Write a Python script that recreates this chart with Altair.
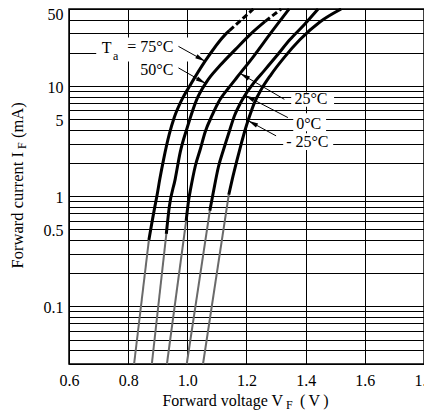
import math
import altair as alt
import pandas as pd

FONT = "Liberation Serif"

# ---------------- data (V in volts, I in mA) ----------------
# Ta = 75 C
t75_low_v = [0.820, 0.870]
t75_low_i = [0.03, 0.40]
t75_v = [0.870, 0.890, 0.897, 0.907, 0.920, 0.939, 0.956, 0.982, 1.008, 1.060, 1.128, 1.142]
t75_i = [0.40, 0.80, 1.0, 1.43, 2.17, 3.65, 5.2, 7.57, 10.0, 16.8, 29.3, 31.8]
t75_dash_v = [1.142, 1.223]
t75_dash_i = [31.8, 50.0]
# Ta = 50 C
t50_low_v = [0.880, 0.929]
t50_low_i = [0.03, 0.456]
t50_v = [0.929, 0.939, 0.959, 0.976, 1.000, 1.032, 1.064, 1.111, 1.162, 1.212, 1.263]
t50_i = [0.456, 0.80, 1.43, 2.51, 4.23, 7.57, 10.8, 15.4, 21.4, 29.3, 38.6]
t50_dash_v = [1.263, 1.317]
t50_dash_i = [38.6, 50.0]
# Ta = 25 C
t25_low_v = [0.931, 0.996]
t25_low_i = [0.03, 0.598]
t25_v = [0.996, 1.005, 1.011, 1.027, 1.044, 1.060, 1.084, 1.111, 1.141, 1.168, 1.226, 1.283, 1.344]
t25_i = [0.598, 0.945, 1.16, 1.88, 2.68, 3.81, 5.43, 7.57, 9.71, 12.0, 18.9, 30.5, 50.0]
# Ta = 0 C
t0_low_v = [0.998, 1.076]
t0_low_i = [0.03, 0.737]
t0_v = [1.076, 1.088, 1.105, 1.123, 1.141, 1.160, 1.179, 1.199, 1.226, 1.260, 1.300, 1.347, 1.395, 1.442]
t0_i = [0.737, 1.09, 1.84, 2.68, 3.81, 5.43, 6.96, 8.58, 10.8, 13.8, 18.5, 26.4, 36.0, 50.0]
# Ta = -25 C
tm25_low_v = [1.053, 1.140]
tm25_low_i = [0.03, 1.03]
tm25_v = [1.140, 1.152, 1.167, 1.182, 1.195, 1.209, 1.226, 1.250, 1.283, 1.327, 1.381, 1.449, 1.520]
tm25_i = [1.03, 1.43, 2.08, 2.97, 3.97, 5.20, 6.96, 9.32, 12.7, 18.1, 26.4, 38.3, 50.0]

# axis ticks / grid
x_ticks = [0.6, 0.8, 1.0, 1.2, 1.4, 1.6, 1.8]
y_grid = [0.03, 0.04, 0.05, 0.06, 0.07, 0.08, 0.09,
          0.1, 0.2, 0.3, 0.4, 0.5, 0.6, 0.7, 0.8, 0.9,
          1, 2, 3, 4, 5, 6, 7, 8, 9,
          10, 20, 30, 40, 50]
y_labels = [50, 10, 5, 1, 0.5, 0.1]

# annotations (data units)
left_lab_text = ["= 75°C", "50°C"]
left_lab_v = [0.953, 0.953]
left_lab_i = [20.2, 12.7]
right_lab_text = ["25°C", "0°C", "- 25°C"]
right_lab_v = [1.362, 1.368, 1.334]
right_lab_i = [6.82, 4.05, 2.77]

arrow_tail_v = [0.970, 0.970, 1.328, 1.340, 1.300]
arrow_tail_i = [22.9, 14.6, 7.57, 5.17, 3.53]
arrow_tip_v = [1.060, 1.062, 1.179, 1.195, 1.206]
arrow_tip_i = [16.8, 10.56, 13.0, 8.23, 4.84]

box_v1 = [0.692, 1.351, 1.358, 1.324]
box_v2 = [1.044, 1.496, 1.469, 1.493]
box_i1 = [16.7, 6.47, 3.89, 2.62]
box_i2 = [27.5, 8.75, 5.66, 3.73]

# ---------------- build tables ----------------
W, H = 355, 355


def rows(name, seg, vs, cs):
    return [{"curve": name, "seg": seg, "k": k, "V": v, "I": c} for k, (v, c) in enumerate(zip(vs, cs))]


recs = []
for name, lv, li, sv, si in [
    ("75", t75_low_v, t75_low_i, t75_v, t75_i),
    ("50", t50_low_v, t50_low_i, t50_v, t50_i),
    ("25", t25_low_v, t25_low_i, t25_v, t25_i),
    ("0", t0_low_v, t0_low_i, t0_v, t0_i),
    ("-25", tm25_low_v, tm25_low_i, tm25_v, tm25_i),
]:
    recs += rows(name, "low", lv, li)
    recs += rows(name, "solid", sv, si)
recs += rows("75", "dash", t75_dash_v, t75_dash_i)
recs += rows("50", "dash", t50_dash_v, t50_dash_i)
curves = pd.DataFrame(recs)


def px(v):
    return (v - 0.6) / 1.2 * W


def py(c):
    return H * (math.log10(50) - math.log10(c)) / (math.log10(50) - math.log10(0.03))


angles = []
for tv, ti, hv, hi in zip(arrow_tail_v, arrow_tail_i, arrow_tip_v, arrow_tip_i):
    dx = px(hv) - px(tv)
    dy = py(hi) - py(ti)
    angles.append(math.degrees(math.atan2(dx, -dy)) % 360)

arrows = pd.DataFrame({"v1": arrow_tail_v, "i1": arrow_tail_i, "v2": arrow_tip_v,
                       "i2": arrow_tip_i, "ang": angles})
boxes = pd.DataFrame({"v1": box_v1, "v2": box_v2, "i1": box_i1, "i2": box_i2})
left_labs = pd.DataFrame({"t": left_lab_text, "V": left_lab_v, "I": left_lab_i})
right_labs = pd.DataFrame({"t": right_lab_text, "V": right_lab_v, "I": right_lab_i})

xs = alt.Scale(domain=[0.6, 1.8], nice=False, zero=False)
ys = alt.Scale(type="log", domain=[0.03, 50], nice=False)

label_expr = "indexof([" + ",".join(str(v) for v in y_labels) + "], datum.value) >= 0 ? datum.label : ''"
xaxis = alt.Axis(values=x_ticks, format=".1f", title=None, labelFlush=False, labelOverlap=False,
                 labelPadding=8, grid=True, ticks=False, domain=False)
yaxis = alt.Axis(values=y_grid, format="~g", labelExpr=label_expr, title=None, labelOverlap=False,
                 labelFlush=True, labelFlushOffset=4, labelOffset=1, labelPadding=6,
                 grid=True, ticks=False, domain=False)


def X(field="V"):
    return alt.X(f"{field}:Q", scale=xs, axis=xaxis)


def Y(field="I"):
    return alt.Y(f"{field}:Q", scale=ys, axis=yaxis)


base = alt.Chart(curves)

box_layer = alt.Chart(boxes).mark_rect(color="white", opacity=1).encode(
    x=X("v1"), x2="v2", y=Y("i1"), y2="i2")

grey = base.transform_filter(alt.datum.seg == "low").mark_line(
    color="#6a6a6a", strokeWidth=2).encode(x=X(), y=Y(), detail="curve:N", order="k:Q")
solid = base.transform_filter(alt.datum.seg == "solid").mark_line(
    color="black", strokeWidth=3, interpolate="monotone").encode(
    x=X(), y=Y(), detail="curve:N", order="k:Q")
dash = base.transform_filter(alt.datum.seg == "dash").mark_line(
    color="black", strokeWidth=3, strokeDash=[6, 3]).encode(
    x=X(), y=Y(), detail="curve:N", order="k:Q")

arrow_lines = alt.Chart(arrows).mark_rule(color="black", strokeWidth=1).encode(
    x=X("v1"), y=Y("i1"), x2="v2", y2="i2")
arrow_heads = alt.Chart(arrows).mark_point(
    shape="M0,0L-0.45,2L0.45,2Z", filled=True, size=100, color="black", opacity=1, strokeWidth=0
).encode(x=X("v2"), y=Y("i2"), angle=alt.Angle("ang:Q", scale=None))

left_text = alt.Chart(left_labs).mark_text(
    font=FONT, fontSize=16, align="right", baseline="alphabetic", color="black").encode(
    x=X(), y=Y(), text="t:N")
right_text = alt.Chart(right_labs).mark_text(
    font=FONT, fontSize=16, align="left", baseline="alphabetic", color="black").encode(
    x=X(), y=Y(), text="t:N")


def txt(text, x, y, size=16, align="left", angle=0):
    return alt.Chart(pd.DataFrame({"t": [text]})).mark_text(
        font=FONT, fontSize=size, align=align, baseline="alphabetic", angle=angle, color="black"
    ).encode(text="t:N", x=alt.value(x), y=alt.value(y))


# "Ta" prefix of the 75 C label (pixel offsets relative to the plot area)
ta_T = txt("T", 32.7, 43.7)
ta_a = txt("a", 44, 50.5, size=12)

# axis titles with subscripts
xt1 = txt("Forward voltage V", 214, 397, align="right")
xt2 = txt("F", 217, 400, size=12)
xt3 = txt("(\u2009V\u2009)", 231, 397)
yt1 = txt("Forward current I", -46, 143, size=16.5, align="right", angle=270)
yt2 = txt("F", -43.5, 140, size=12, angle=270)
yt3 = txt("(mA)", -46, 129, size=16.5, angle=270)

chart = alt.layer(
    box_layer, grey, solid, dash, arrow_lines, arrow_heads, left_text, right_text,
    ta_T, ta_a, xt1, xt2, xt3, yt1, yt2, yt3
).properties(
    width=W, height=H,
    padding={"left": 61, "top": 1, "right": 0, "bottom": 47},
    autosize=alt.AutoSizeParams(type="none"),
).configure_view(
    stroke="black", strokeWidth=1.5
).configure_axis(
    gridColor="black", gridWidth=1, gridOpacity=1,
    labelFont=FONT, labelFontSize=16, labelColor="black"
)

chart.save("out.html", embed_options={"renderer": "svg", "actions": False})
